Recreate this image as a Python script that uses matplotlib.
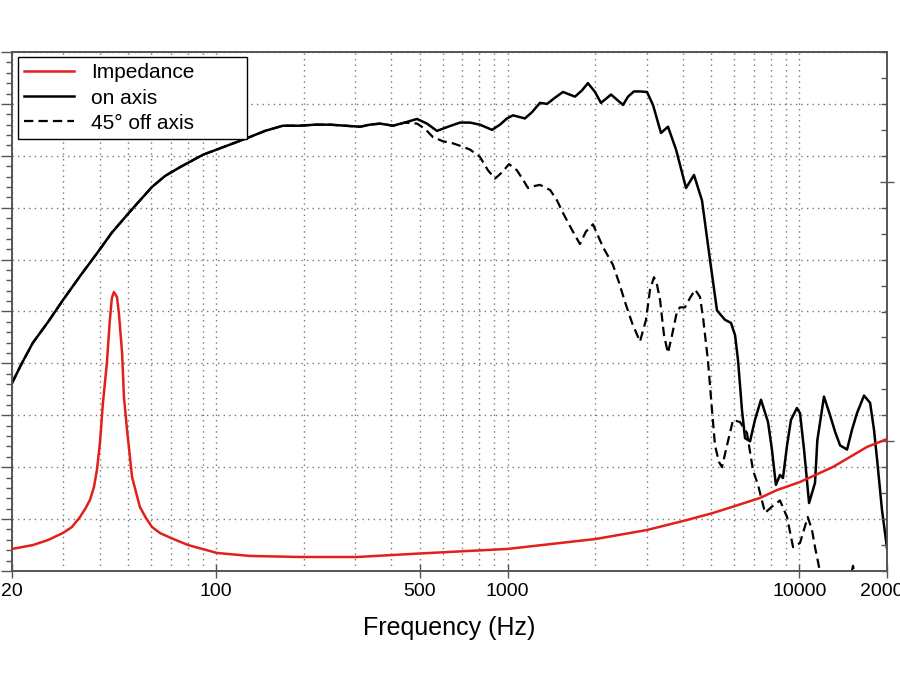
import numpy as np
from matplotlib import pyplot as plt
from matplotlib.ticker import FixedLocator, MultipleLocator, NullFormatter, LogLocator

plt.rcParams['font.family'] = ['Liberation Sans', 'DejaVu Sans']

# on-axis response (Hz, dB)
f_on = [20, 21.6, 23.6, 26.6, 29.9, 34.2, 39.1, 44.0, 49.6, 54.9, 60.4, 66.9, 75.3, 90.3,
        107.5, 127.9, 147.4, 169.9, 194.2, 218.8, 246, 277, 312, 337.7, 365.5, 405, 444,
        489.5, 529.6, 573, 625, 687, 743.6, 804, 885, 942, 995.6, 1044, 1147, 1213, 1292,
        1366, 1455, 1549, 1703, 1800, 1886, 1995, 2090, 2176, 2264, 2374, 2489, 2589, 2712,
        2845, 3006, 3153, 3358, 3549, 3782, 4093, 4358, 4642, 4944, 5226, 5566, 5836, 6029,
        6170, 6365, 6521, 6784, 7051, 7397, 7818, 8063, 8318, 8592, 8796, 9085, 9370, 9820,
        10064, 10390, 10810, 11330, 11540, 12160, 12760, 13280, 13810, 14590, 15170, 15780,
        16680, 17500, 18050, 18500, 19220, 20000]
db_on = [68.1, 70.0, 72.0, 74.0, 76.1, 78.4, 80.6, 82.6, 84.3, 85.7, 87.0, 88.05, 88.9, 90.1,
         90.9, 91.7, 92.4, 92.9, 92.9, 93.0, 93.0, 92.9, 92.8, 93.0, 93.1, 92.9, 93.2,
         93.55, 93.1, 92.4, 92.8, 93.2, 93.2, 93.0, 92.5, 93.0, 93.6, 93.9, 93.6, 94.2, 95.1,
         95.0, 95.6, 96.15, 95.7, 96.3, 97.0, 96.15, 95.1, 95.5, 95.9, 95.4, 94.9, 95.7, 96.2,
         96.2, 96.15, 94.9, 92.2, 92.8, 90.6, 86.9, 88.15, 85.7, 80.0, 75.1, 74.2, 73.9, 72.7,
         70.3, 65.5, 62.8, 62.5, 64.55, 66.5, 64.35, 61.7, 58.3, 59.25, 58.96, 62.1, 64.55, 65.7,
         65.2, 61.7, 56.55, 58.5, 62.6, 66.8, 65.0, 63.4, 62.1, 61.7, 63.6, 65.2,
         66.9, 66.2, 63.6, 60.7, 55.9, 52.2]

# 45 deg off-axis response (Hz, dB)
f_off = [20, 21.6, 23.6, 26.6, 29.9, 34.2, 39.1, 44.0, 49.6, 54.9, 60.4, 66.9, 75.3, 90.3,
         107.5, 127.9, 147.4, 169.9, 194.2, 218.8, 246, 277, 312, 337.7, 365.5, 405, 444,
         489.5, 521, 555, 600.6, 650, 698, 743.6, 804, 857, 906, 957, 1012, 1077, 1130, 1175,
         1242, 1292, 1400, 1478, 1549, 1664, 1771, 1857, 1963, 2125, 2298, 2411, 2529, 2673,
         2845, 2984, 3080, 3178, 3256, 3334, 3440, 3549, 3663, 3810, 3900, 4057, 4222, 4398,
         4570, 4677, 4865, 5024, 5144, 5310, 5437, 5654, 5932, 6268, 6622, 6944, 7224, 7637,
         8063, 8592, 9085, 9526, 10064, 10700, 11064, 11330, 11790, 12760, 14470, 15290,
         16160, 17500]
db_off = [68.1, 70.0, 72.0, 74.0, 76.1, 78.4, 80.6, 82.6, 84.3, 85.7, 87.0, 88.05, 88.9, 90.1,
          90.9, 91.7, 92.4, 92.9, 92.9, 93.0, 93.0, 92.9, 92.8, 93.0, 93.1, 92.9, 93.2,
          93.1, 92.6, 91.8, 91.4, 91.2, 90.9, 90.6, 89.9, 88.6, 87.8, 88.4, 89.2, 88.6, 87.7, 86.9,
          87.1, 87.2, 86.7, 85.7, 84.5, 82.85, 81.5, 82.7, 83.4, 81.2, 79.5, 77.8, 75.9, 73.9,
          72.1, 74.2, 77.1, 78.3, 77.55, 76.1, 72.7, 71.0, 72.7, 75.0, 75.4, 75.4, 76.3, 77.1,
          76.4, 74.5, 70.3, 65.5, 62.1, 60.5, 60.0, 62.1, 64.55, 64.35, 63.3, 59.7, 58.3, 55.6,
          56.2, 56.8, 55.2, 52.3, 52.7, 55.2, 53.95, 52.3, 49.9, 46.2, 47.2, 50.5,
          47.2, 45.3]

# impedance (Hz, ohm)
f_imp = [20, 23.6, 26.6, 29.9, 32.1, 34.2, 35.8, 37.0, 38.2, 39.1, 40.05, 41.0, 42.3, 43.3,
         44.0, 44.7, 45.8, 46.5, 47.7, 48.4, 49.6, 51.6, 54.9, 57.6, 60.4, 64.3, 70.2, 80.3,
         100.9, 131, 194, 305, 500, 1000, 2010, 3006, 4123, 5060, 6025, 7340, 8394, 10064,
         13060, 17070, 20000]
z_imp = [1.70, 2.00, 2.39, 2.93, 3.39, 4.16, 4.86, 5.47, 6.47, 7.78, 9.87, 12.95, 16.03, 19.34,
         21.04, 21.5, 21.12, 19.88, 16.8, 13.41, 10.87, 7.24, 4.93, 4.08, 3.39, 2.93, 2.54, 2.00,
         1.39, 1.16, 1.08, 1.08, 1.35, 1.70, 2.47, 3.16, 3.93, 4.47, 5.01, 5.63, 6.24, 6.86,
         8.02, 9.56, 10.17]

xticks = [20, 100, 500, 1000, 10000, 20000]

fig = plt.figure(figsize=(9, 6.75), dpi=100)
ax = fig.add_axes([12/900, 104/675, 875/900, 519/675])
ax2 = ax.twinx()

ax.plot(f_on, db_on, color='black', lw=1.8, label='on axis', zorder=3)
ax.plot(f_off, db_off, color='black', lw=1.6, dashes=(4.2, 2.3), label='45° off axis', zorder=3)
ax2.plot(f_imp, z_imp, color='#e0201b', lw=1.8, zorder=3)
ax.plot([], [], color='#e0201b', lw=1.8, label='Impedance')

ax.set_xscale('log')
ax.set_xlim(20, 20000)
ax.set_ylim(50, 100)
ax2.set_ylim(0, 40)

# x ticks
ax.xaxis.set_major_locator(FixedLocator(xticks))
ax.set_xticklabels([str(t) for t in xticks])
ax.xaxis.set_minor_locator(LogLocator(base=10, subs=np.arange(1, 10)))
ax.xaxis.set_minor_formatter(NullFormatter())
ax.tick_params(axis='x', which='major', direction='inout', length=10, width=1,
               color='#555555', labelsize=14, pad=4)
ax.tick_params(axis='x', which='minor', length=0)
ax.grid(True, which='both', axis='x', color='#777777', lw=1, linestyle=(0, (1, 3)))

# left y ticks
ax.yaxis.set_major_locator(MultipleLocator(5))
ax.yaxis.set_minor_locator(MultipleLocator(1))
ax.tick_params(axis='y', which='major', direction='out', length=8, width=1,
               color='#555555', labelleft=False)
ax.tick_params(axis='y', which='minor', direction='out', length=4, width=1, color='#555555')
ax.grid(True, which='major', axis='y', color='#777777', lw=1, linestyle=(0, (1, 3)))

# right y ticks
ax2.yaxis.set_major_locator(FixedLocator([10, 30]))
ax2.yaxis.set_minor_locator(MultipleLocator(2))
ax2.tick_params(axis='y', which='major', direction='inout', length=10, width=1,
                color='#555555', labelright=False)
ax2.tick_params(axis='y', which='minor', direction='in', length=4, width=1, color='#555555')

for a in (ax, ax2):
    for s in a.spines.values():
        s.set_color('#555555')
        s.set_linewidth(1.2)

ax.set_xlabel('Frequency (Hz)', fontsize=18, labelpad=11)

h, l = ax.get_legend_handles_labels()
order = [2, 0, 1]
leg = ax.legend([h[i] for i in order], [l[i] for i in order], loc='upper left',
                bbox_to_anchor=(6/875, 0, 229/875, 1 - 5/519), mode='expand',
                fontsize=15, frameon=True, fancybox=False, framealpha=1,
                edgecolor='black', borderaxespad=0, borderpad=0.3,
                handlelength=2.4, handletextpad=0.8, labelspacing=0.3)
leg.get_frame().set_linewidth(1)
leg.set_zorder(10)

plt.savefig('out.png', dpi=100)
